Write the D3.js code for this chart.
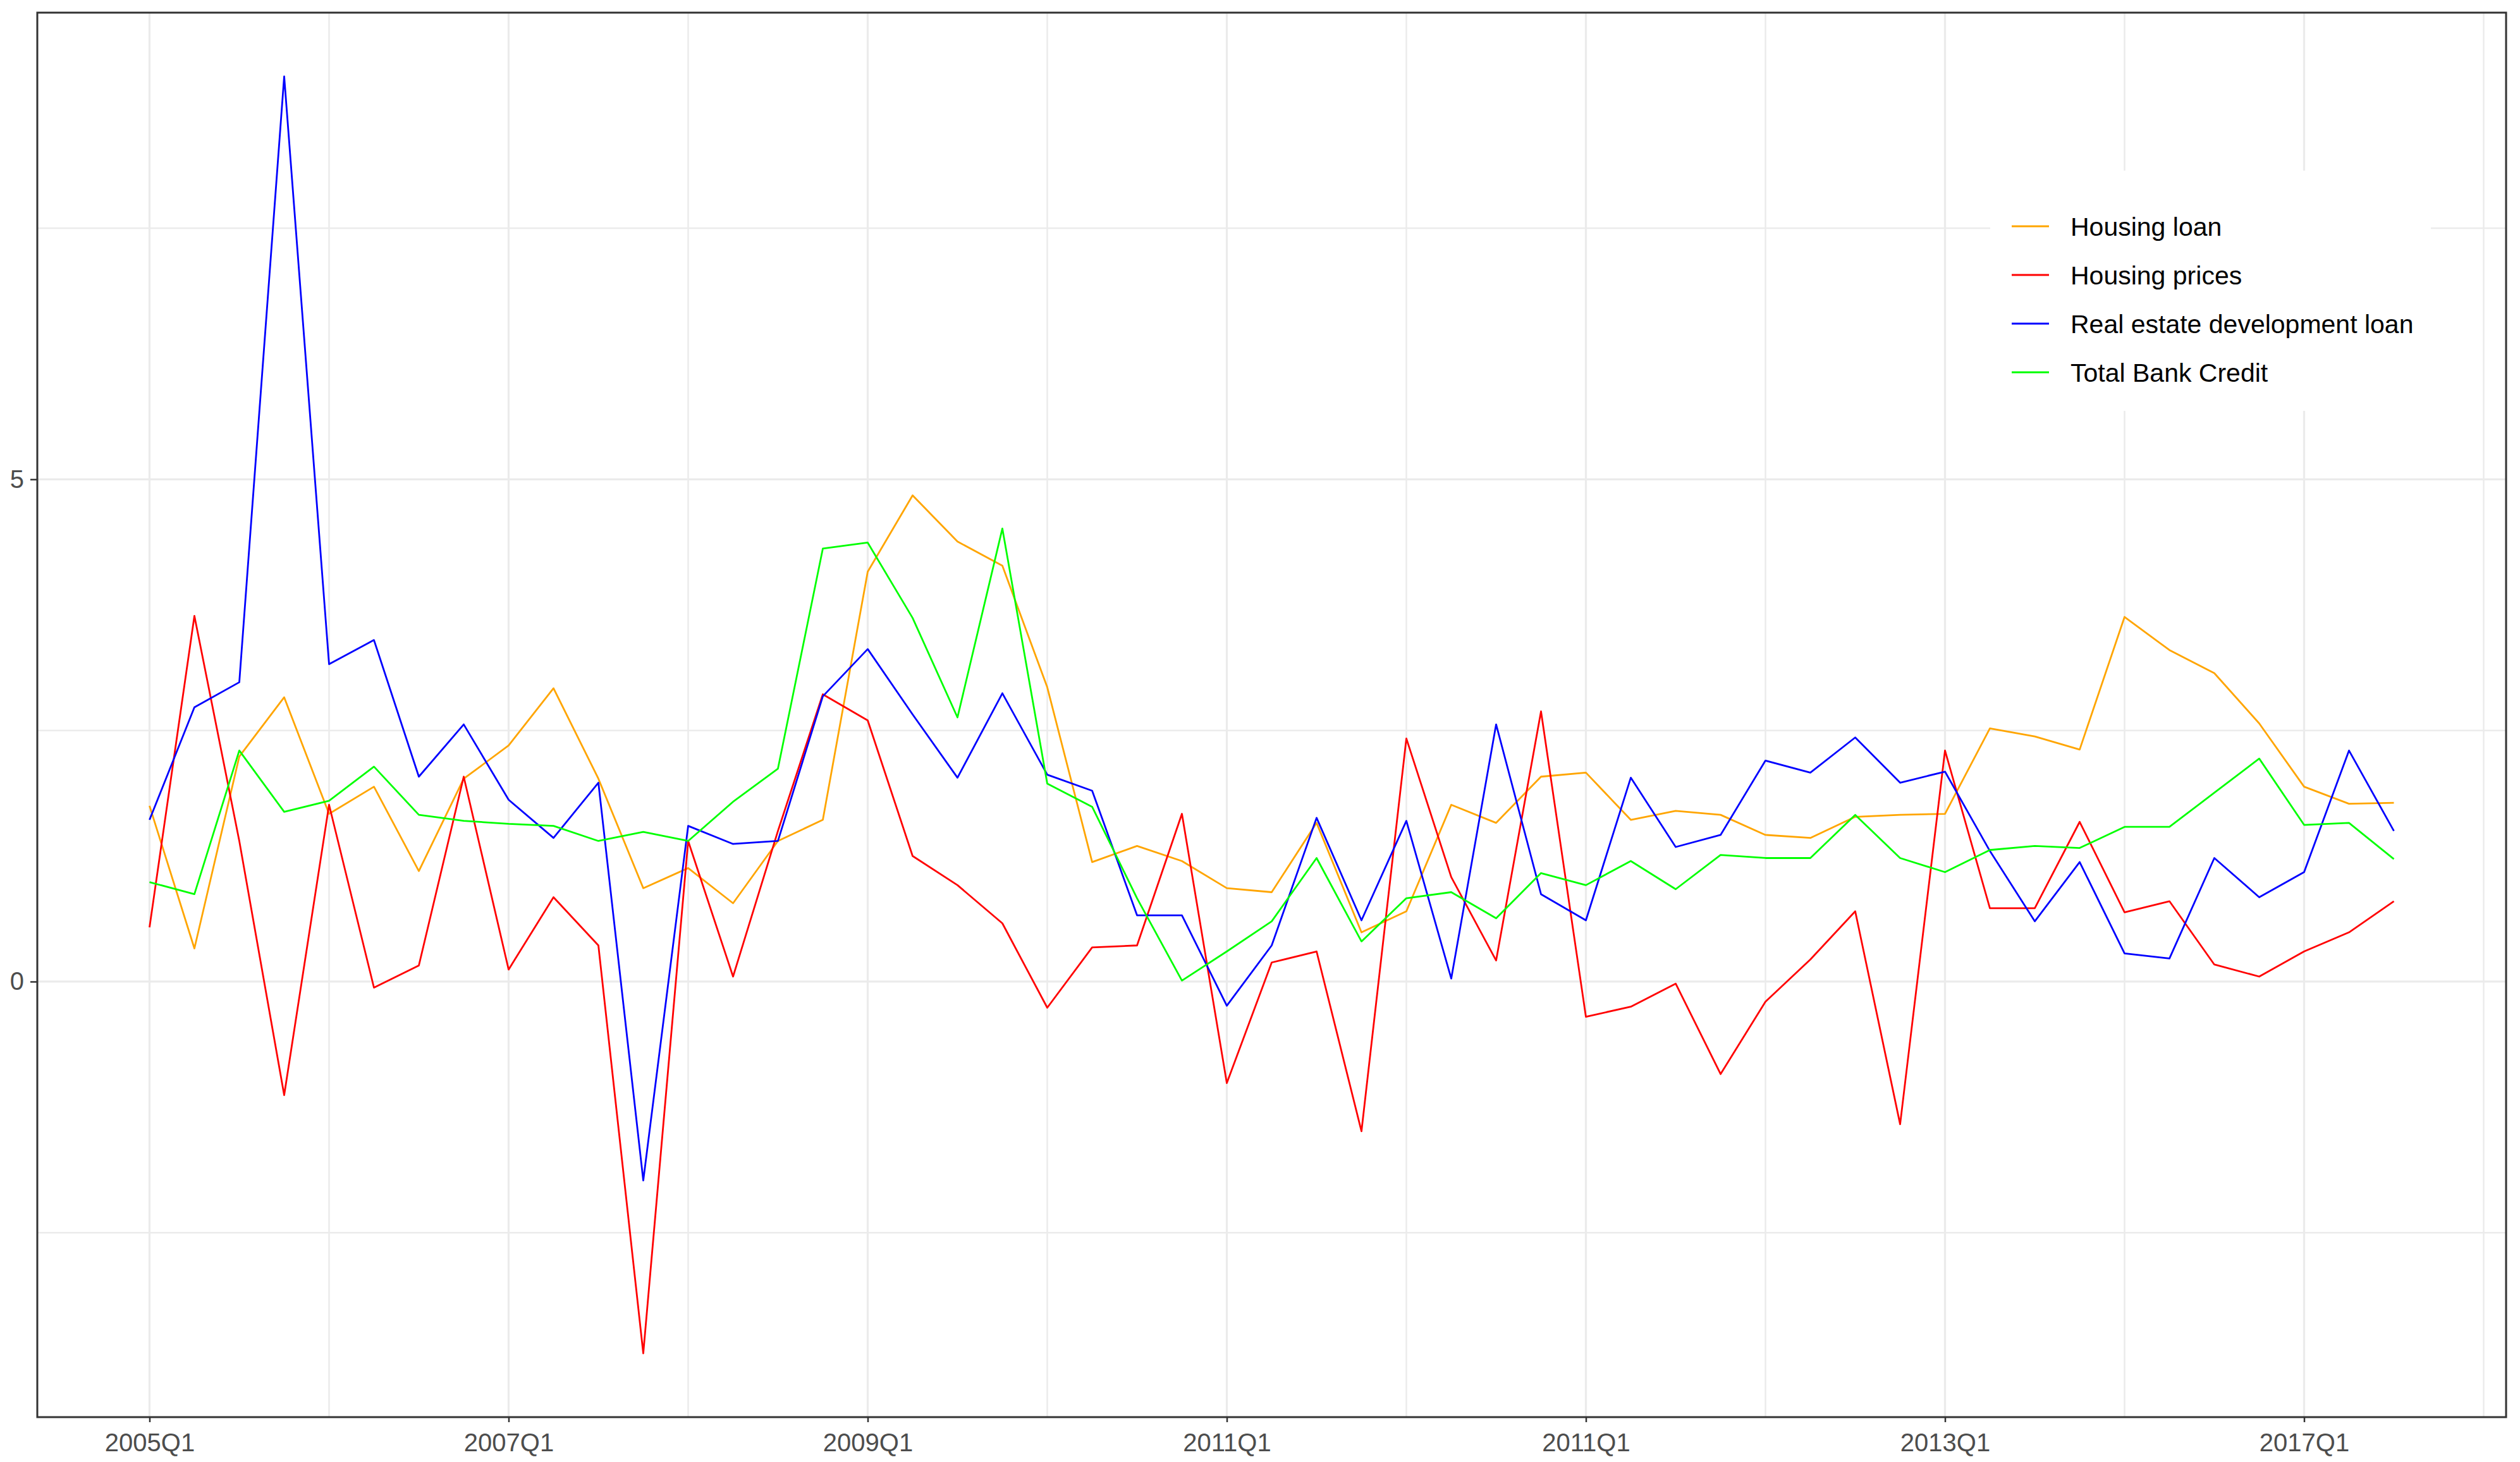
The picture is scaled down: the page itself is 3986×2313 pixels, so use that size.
<!DOCTYPE html>
<html>
<head>
<meta charset="utf-8">
<script src="https://cdn.jsdelivr.net/npm/d3@7/dist/d3.min.js"></script>
<style>
  body { margin: 0; background: #fff; }
  svg { display: block; font-family: 'Liberation Sans', Arial, sans-serif; }
</style>
</head>
<body>
<svg id="chart"></svg>
<script>
const width = 3986, // width of <svg>
    height = 2313; // height of <svg>

// quarters on the x axis
const quarters = [
    '2005Q1', '2005Q2', '2005Q3', '2005Q4', '2006Q1', '2006Q2', '2006Q3', '2006Q4',
    '2007Q1', '2007Q2', '2007Q3', '2007Q4', '2008Q1', '2008Q2', '2008Q3', '2008Q4',
    '2009Q1', '2009Q2', '2009Q3', '2009Q4', '2010Q1', '2010Q2', '2010Q3', '2010Q4',
    '2011Q1', '2011Q2', '2011Q3', '2011Q4', '2012Q1', '2012Q2', '2012Q3', '2012Q4',
    '2013Q1', '2013Q2', '2013Q3', '2013Q4', '2014Q1', '2014Q2', '2014Q3', '2014Q4',
    '2015Q1', '2015Q2', '2015Q3', '2015Q4', '2016Q1', '2016Q2', '2016Q3', '2016Q4',
    '2017Q1', '2017Q2', '2017Q3',
];

const housingLoan = [
    1.75, 0.33, 2.24, 2.83, 1.67, 1.94, 1.10, 2.02, 2.35, 2.92,
    2.02, 0.93, 1.13, 0.78, 1.40, 1.61, 4.08, 4.84, 4.38, 4.14,
    2.93, 1.19, 1.35, 1.20, 0.93, 0.89, 1.58, 0.49, 0.70, 1.76,
    1.58, 2.04, 2.08, 1.61, 1.70, 1.66, 1.46, 1.43, 1.64, 1.66,
    1.67, 2.52, 2.44, 2.31, 3.63, 3.30, 3.07, 2.57, 1.94, 1.77, 1.78,
];
const housingPrices = [
    0.54, 3.64, 1.40, -1.13, 1.76, -0.06, 0.16, 2.04, 0.12, 0.84,
    0.36, -3.70, 1.40, 0.05, 1.50, 2.86, 2.60, 1.25, 0.96, 0.58,
    -0.26, 0.34, 0.36, 1.67, -1.01, 0.19, 0.30, -1.49, 2.42, 1.04,
    0.21, 2.69, -0.35, -0.25, -0.02, -0.92, -0.20, 0.22, 0.70, -1.42,
    2.30, 0.73, 0.73, 1.59, 0.69, 0.80, 0.17, 0.05, 0.30, 0.49, 0.80,
];
const realEstateLoan = [
    1.61, 2.73, 2.98, 9.01, 3.16, 3.40, 2.04, 2.56, 1.81, 1.43,
    1.98, -1.98, 1.55, 1.37, 1.40, 2.84, 3.31, 2.66, 2.03, 2.87,
    2.06, 1.90, 0.66, 0.66, -0.24, 0.36, 1.63, 0.61, 1.60, 0.03,
    2.56, 0.87, 0.61, 2.03, 1.34, 1.46, 2.20, 2.08, 2.43, 1.98,
    2.09, 1.30, 0.60, 1.19, 0.28, 0.23, 1.23, 0.84, 1.09, 2.30, 1.50,
];
const totalBankCredit = [
    0.99, 0.87, 2.30, 1.69, 1.80, 2.14, 1.66, 1.60, 1.57, 1.55,
    1.40, 1.49, 1.40, 1.79, 2.12, 4.31, 4.37, 3.62, 2.63, 4.51,
    1.97, 1.74, 0.83, 0.01, 0.30, 0.60, 1.23, 0.40, 0.83, 0.89,
    0.63, 1.08, 0.96, 1.20, 0.92, 1.26, 1.23, 1.23, 1.66, 1.23,
    1.09, 1.31, 1.35, 1.33, 1.54, 1.54, 1.88, 2.22, 1.56, 1.58, 1.22,
];

const seriesNames = ['Housing loan', 'Housing prices', 'Real estate development loan', 'Total Bank Credit'];
const seriesColors = ['orange', 'red', 'blue', '#00ff00'];

// tick labels as printed on the axis
const xTickIndex = [0, 8, 16, 24, 32, 40, 48];
const xTickLabels = ['2005Q1', '2007Q1', '2009Q1', '2011Q1', '2011Q1', '2013Q1', '2017Q1'];
const xMinorIndex = [4, 12, 20, 28, 36, 44, 52];
const yTicks = [0, 5];
const yMinor = [-2.5, 2.5, 7.5];

const panel = { left: 59, right: 3964, top: 20, bottom: 2242 };

const series = [housingLoan, housingPrices, realEstateLoan, totalBankCredit];

const svg = d3.select('#chart').attr('width', width).attr('height', height);
svg.append('rect').attr('width', width).attr('height', height).attr('fill', '#fff');

// ggplot-like 5% expansion
const n = quarters.length - 1;
const x = d3.scaleLinear()
    .domain([-0.05 * n, n + 0.05 * n])
    .range([panel.left, panel.right]);

const allVals = series.flat();
const yMin = d3.min(allVals), yMax = d3.max(allVals);
const pad = (yMax - yMin) * 0.05;
const y = d3.scaleLinear()
    .domain([yMin - pad, yMax + pad])
    .range([panel.bottom, panel.top]);

// grid
const grid = svg.append('g').attr('stroke', '#ebebeb');
grid.selectAll('.ymin').data(yMinor).enter().append('line')
    .attr('x1', panel.left).attr('x2', panel.right)
    .attr('y1', (d) => y(d)).attr('y2', (d) => y(d))
    .attr('stroke-width', 2.5);
grid.selectAll('.xmin').data(xMinorIndex).enter().append('line')
    .attr('y1', panel.top).attr('y2', panel.bottom)
    .attr('x1', (d) => x(d)).attr('x2', (d) => x(d))
    .attr('stroke-width', 2.5);
grid.selectAll('.ymaj').data(yTicks).enter().append('line')
    .attr('x1', panel.left).attr('x2', panel.right)
    .attr('y1', (d) => y(d)).attr('y2', (d) => y(d))
    .attr('stroke-width', 3.2);
grid.selectAll('.xmaj').data(xTickIndex).enter().append('line')
    .attr('y1', panel.top).attr('y2', panel.bottom)
    .attr('x1', (d) => x(d)).attr('x2', (d) => x(d))
    .attr('stroke-width', 3.2);

// lines
const line = d3.line().x((d, i) => x(i)).y((d) => y(d));
svg.append('g')
    .selectAll('path')
    .data(series)
    .enter()
    .append('path')
    .attr('fill', 'none')
    .attr('stroke', (d, i) => seriesColors[i])
    .attr('stroke-width', 2.8)
    .attr('stroke-linejoin', 'round')
    .attr('d', line);

// axes
const xAxis = svg.append('g')
    .attr('transform', `translate(0,${panel.bottom})`)
    .call(d3.axisBottom(x).tickValues(xTickIndex).tickSize(8).tickPadding(18)
        .tickFormat((d, i) => xTickLabels[i]));
const yAxis = svg.append('g')
    .attr('transform', `translate(${panel.left},0)`)
    .call(d3.axisLeft(y).tickValues(yTicks).tickSize(11).tickPadding(10).tickFormat(d3.format('d')));

[xAxis, yAxis].forEach((a) => {
    a.select('.domain').remove();
    a.selectAll('.tick line').attr('stroke', '#333').attr('stroke-width', 2.5);
    a.selectAll('.tick text')
        .attr('fill', '#4d4d4d')
        .style('font-size', '40px')
        .attr('font-family', "'Liberation Sans', Arial, sans-serif");
});

// panel border
svg.append('rect')
    .attr('x', panel.left).attr('y', panel.top)
    .attr('width', panel.right - panel.left).attr('height', panel.bottom - panel.top)
    .attr('fill', 'none').attr('stroke', '#333').attr('stroke-width', 3);

// legend inside the panel
const legend = svg.append('g').attr('transform', 'translate(3148,270)');
legend.append('rect').attr('width', 697).attr('height', 380).attr('fill', '#fff');
const item = legend.selectAll('.item').data(seriesNames).enter().append('g')
    .attr('transform', (d, i) => `translate(0,${88 + i * 77})`);
item.append('line')
    .attr('x1', 34).attr('x2', 93)
    .attr('stroke', (d, i) => seriesColors[i])
    .attr('stroke-width', 2.8);
item.append('text')
    .attr('x', 127).attr('y', 4)
    .attr('dominant-baseline', 'middle')
    .style('font-size', '41px')
    .attr('fill', '#000')
    .text((d) => d);
</script>
</body>
</html>
